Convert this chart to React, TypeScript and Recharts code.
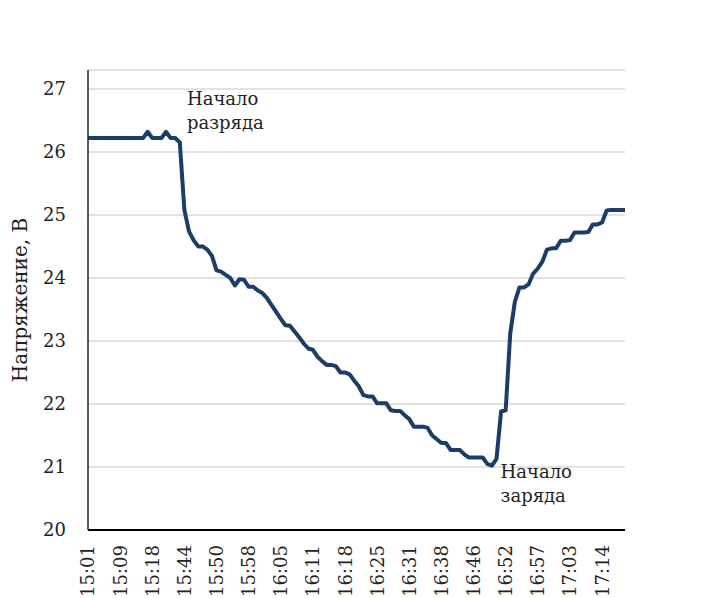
import React from 'react';
import { LineChart, Line, XAxis, YAxis, CartesianGrid, ReferenceDot, Label } from 'recharts';

// one reading per minute-ish, labels every 7th reading
const tickLabels = [
  '15:01', '15:09', '15:18', '15:44', '15:50', '15:58', '16:05', '16:11', '16:18',
  '16:25', '16:31', '16:38', '16:46', '16:52', '16:57', '17:03', '17:14',
];

const voltage = [
  26.22, 26.22, 26.22, 26.22, 26.22, 26.22, 26.22, 26.22, 26.22, 26.22,
  26.22, 26.22, 26.22, 26.32, 26.22, 26.22, 26.22, 26.32, 26.22, 26.22,
  26.15, 25.08, 24.74, 24.6, 24.5, 24.5, 24.45, 24.35, 24.12, 24.1,
  24.05, 24.0, 23.88, 23.98, 23.97, 23.86, 23.86, 23.8, 23.76, 23.68,
  23.57, 23.46, 23.35, 23.25, 23.24, 23.15, 23.06, 22.96, 22.88, 22.86,
  22.75, 22.68, 22.62, 22.62, 22.6, 22.5, 22.5, 22.47, 22.37, 22.28,
  22.14, 22.12, 22.12, 22.01, 22.01, 22.01, 21.9, 21.89, 21.89, 21.82,
  21.76, 21.64, 21.64, 21.64, 21.62, 21.5, 21.44, 21.38, 21.38, 21.27,
  21.27, 21.27, 21.2, 21.15, 21.15, 21.15, 21.15, 21.05, 21.02, 21.13,
  21.88, 21.9, 23.12, 23.62, 23.85, 23.85, 23.9, 24.07, 24.15, 24.26,
  24.45, 24.47, 24.47, 24.59, 24.59, 24.6, 24.72, 24.72, 24.72, 24.73,
  24.85, 24.85, 24.88, 25.07, 25.08, 25.08, 25.08, 25.08,
];

const yTicks = [20, 21, 22, 23, 24, 25, 26, 27];

const STEP = 7;
const data = voltage.map((v, i) => ({ i, v }));
const xTicks = tickLabels.map((_, j) => j * STEP);

const FONT = '"DejaVu Serif", serif';
const TEXT = '#222';
const FS = 18;

const XTick = ({ x, y, payload }: any) => (
  <g transform={`translate(${x},${y})`}>
    <text
      transform="rotate(-90)"
      x={-15}
      y={0}
      dy="0.36em"
      textAnchor="end"
      fontFamily={FONT}
      fontSize={FS}
      fill={TEXT}
    >
      {tickLabels[Math.round(payload.value / STEP)]}
    </text>
  </g>
);

const Note = ({ viewBox, lines }: any) => {
  if (!viewBox) return null;
  return (
    <text x={viewBox.x} y={viewBox.y} fontFamily={FONT} fontSize={FS} fill={TEXT}>
      {lines.map((s: string, k: number) => (
        <tspan key={k} x={viewBox.x} dy={k === 0 ? 0 : 24}>
          {s}
        </tspan>
      ))}
    </text>
  );
};

const YTitle = ({ viewBox }: any) => {
  const cx = viewBox.x + 12;
  const cy = viewBox.y + viewBox.height / 2;
  return (
    <text
      x={cx}
      y={cy}
      transform={`rotate(-90, ${cx}, ${cy})`}
      dy="0.35em"
      textAnchor="middle"
      fontFamily={FONT}
      fontSize={20}
      fill={TEXT}
    >
      Напряжение, В
    </text>
  );
};

export default function App() {
  return (
    <div style={{ width: 701, height: 590 }}>
      <LineChart width={701} height={590} data={data} margin={{ top: 62, right: 84, bottom: 0, left: 0 }}>
        <CartesianGrid vertical={false} stroke="#d9d9d9" strokeWidth={1.5} />
        <XAxis
          type="number"
          dataKey="i"
          domain={[0, voltage.length - 1]}
          ticks={xTicks}
          interval={0}
          height={68}
          tickLine={false}
          tickSize={0}
          tickMargin={0}
          axisLine={{ stroke: '#000', strokeWidth: 2 }}
          tick={<XTick />}
        />
        <YAxis
          type="number"
          domain={[20, 27.3]}
          ticks={yTicks}
          interval={0}
          width={80}
          tickLine={false}
          tickSize={0}
          tickMargin={22}
          axisLine={{ stroke: '#262626', strokeWidth: 1.5 }}
          tick={{ fontFamily: FONT, fontSize: FS, fill: TEXT }}
        >
          <Label content={(p: any) => <YTitle viewBox={p.viewBox} />} />
        </YAxis>
        <Line
          type="linear"
          dataKey="v"
          stroke="#1b3d66"
          strokeWidth={4}
          strokeLinejoin="round"
          dot={false}
          activeDot={false}
          isAnimationActive={false}
        />
        <ReferenceDot x={21.56} y={26.75} r={0} stroke="none" fill="none" ifOverflow="visible">
          <Label content={(p: any) => <Note viewBox={p.viewBox} lines={['Начало', 'разряда']} />} />
        </ReferenceDot>
        <ReferenceDot x={89.9} y={20.83} r={0} stroke="none" fill="none" ifOverflow="visible">
          <Label content={(p: any) => <Note viewBox={p.viewBox} lines={['Начало', 'заряда']} />} />
        </ReferenceDot>
      </LineChart>
    </div>
  );
}
